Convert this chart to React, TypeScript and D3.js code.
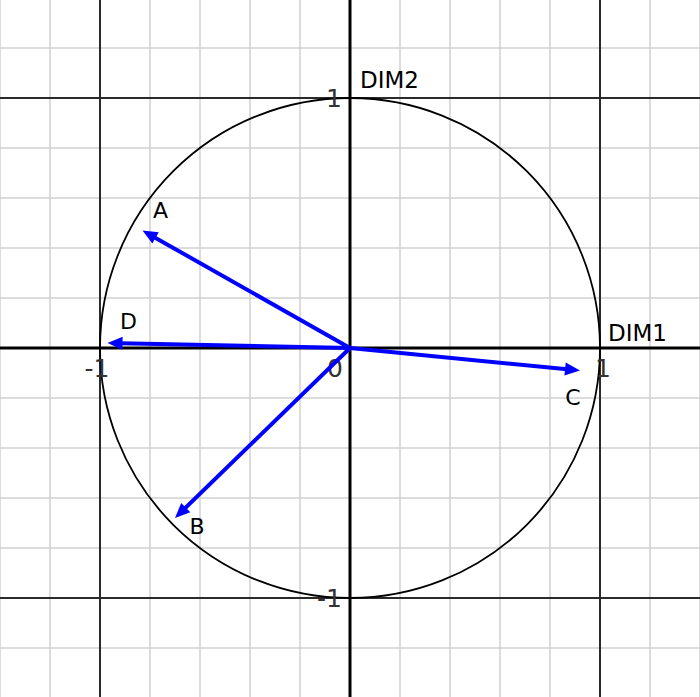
import { useEffect, useRef } from "react";
import * as d3 from "d3";

// variable names and their loadings on the two dimensions
const varNames = ["A", "B", "C", "D"];
const dim1 = [-0.83, -0.7, 0.92, -0.97];
const dim2 = [0.47, -0.68, -0.09, 0.02];

// tick values shown on the axes
const axisTicks = [-1, 0, 1];
const axisTitles = ["DIM1", "DIM2"];

const W = 700;
const H = 697;

export default function App() {
  const ref = useRef<SVGSVGElement>(null);

  useEffect(() => {
    const svg = d3.select(ref.current);
    svg.selectAll("*").remove();

    // 1 unit = 250px, origin at (350, 348)
    const x = d3.scaleLinear().domain([-1, 1]).range([100, 600]);
    const y = d3.scaleLinear().domain([-1, 1]).range([598, 98]);

    const gridX = d3.range(-7, 8).map((k) => k * 0.2);
    const gridY = d3.range(-7, 8).map((k) => k * 0.2);

    // minor grid
    const grid = svg.append("g");
    grid
      .selectAll("line.vx")
      .data(gridX)
      .enter()
      .append("line")
      .attr("x1", (d) => x(d))
      .attr("x2", (d) => x(d))
      .attr("y1", 0)
      .attr("y2", H)
      .attr("stroke", "#d0d0d0")
      .attr("stroke-width", 1.5);
    grid
      .selectAll("line.hy")
      .data(gridY)
      .enter()
      .append("line")
      .attr("y1", (d) => y(d))
      .attr("y2", (d) => y(d))
      .attr("x1", 0)
      .attr("x2", W)
      .attr("stroke", "#d0d0d0")
      .attr("stroke-width", 1.5);

    // major lines at -1 and 1
    const major = [-1, 1];
    grid
      .selectAll("line.mx")
      .data(major)
      .enter()
      .append("line")
      .attr("x1", (d) => x(d))
      .attr("x2", (d) => x(d))
      .attr("y1", 0)
      .attr("y2", H)
      .attr("stroke", "#2a2a2a")
      .attr("stroke-width", 2);
    grid
      .selectAll("line.my")
      .data(major)
      .enter()
      .append("line")
      .attr("y1", (d) => y(d))
      .attr("y2", (d) => y(d))
      .attr("x1", 0)
      .attr("x2", W)
      .attr("stroke", "#2a2a2a")
      .attr("stroke-width", 2);

    // axes
    svg.append("line")
      .attr("x1", 0).attr("x2", W)
      .attr("y1", y(0)).attr("y2", y(0))
      .attr("stroke", "#000").attr("stroke-width", 3);
    svg.append("line")
      .attr("x1", x(0)).attr("x2", x(0))
      .attr("y1", 0).attr("y2", H)
      .attr("stroke", "#000").attr("stroke-width", 3);

    // unit circle
    svg.append("circle")
      .attr("cx", x(0))
      .attr("cy", y(0))
      .attr("r", x(1) - x(0))
      .attr("fill", "none")
      .attr("stroke", "#000")
      .attr("stroke-width", 1.8);

    // tick labels
    const tickStyle = (s: any) =>
      s.attr("font-family", "DejaVu Sans, sans-serif")
        .attr("font-size", 25)
        .attr("fill", "#333");

    svg.append("g")
      .selectAll("text")
      .data(axisTicks)
      .enter()
      .append("text")
      .attr("x", (d) => x(d) + (d === 0 ? -15 : d < 0 ? -3 : 3))
      .attr("y", y(0) + 29)
      .attr("text-anchor", "middle")
      .call(tickStyle)
      .text((d) => String(d));

    svg.append("g")
      .selectAll("text")
      .data(axisTicks.filter((d) => d !== 0))
      .enter()
      .append("text")
      .attr("x", x(0) - 8)
      .attr("y", (d) => y(d) + 9)
      .attr("text-anchor", "end")
      .call(tickStyle)
      .text((d) => String(d));

    // axis titles
    svg.append("text")
      .attr("x", x(1) + 8)
      .attr("y", y(0) - 7)
      .attr("font-family", "DejaVu Sans, sans-serif")
      .attr("font-size", 23)
      .attr("fill", "#000")
      .text(axisTitles[0]);
    svg.append("text")
      .attr("x", x(0) + 10)
      .attr("y", y(1) - 10)
      .attr("font-family", "DejaVu Sans, sans-serif")
      .attr("font-size", 23)
      .attr("fill", "#000")
      .text(axisTitles[1]);

    // arrows
    const data = varNames.map((n, i) => ({ name: n, d1: dim1[i], d2: dim2[i] }));
    const head = 15;
    const half = 6.5;
    const arrows = svg.append("g");

    data.forEach((d) => {
      const x0 = x(0), y0 = y(0);
      const x1 = x(d.d1), y1 = y(d.d2);
      const len = Math.hypot(x1 - x0, y1 - y0);
      const ux = (x1 - x0) / len, uy = (y1 - y0) / len;
      const bx = x1 - ux * head, by = y1 - uy * head;
      arrows.append("line")
        .attr("x1", x0).attr("y1", y0)
        .attr("x2", x1 - ux * (head - 2)).attr("y2", y1 - uy * (head - 2))
        .attr("stroke", "#0000ff")
        .attr("stroke-width", 4);
      arrows.append("path")
        .attr("d", `M${x1},${y1}L${bx - uy * half},${by + ux * half}L${bx + uy * half},${by - ux * half}Z`)
        .attr("fill", "#0000ff");
    });

    // label offsets from arrow tips (px)
    const labelOffset: Record<string, [number, number]> = {
      A: [18, -13],
      B: [22, 16],
      C: [-7, 34],
      D: [21, -14],
    };
    svg.append("g")
      .selectAll("text")
      .data(data)
      .enter()
      .append("text")
      .attr("x", (d) => x(d.d1) + labelOffset[d.name][0])
      .attr("y", (d) => y(d.d2) + labelOffset[d.name][1])
      .attr("text-anchor", "middle")
      .attr("font-family", "DejaVu Sans, sans-serif")
      .attr("font-size", 22)
      .attr("fill", "#000")
      .text((d) => d.name);
  }, []);

  return (
    <svg
      ref={ref}
      width={W}
      height={H}
      style={{ position: "absolute", left: 0, top: 0, background: "#fff" }}
    />
  );
}
